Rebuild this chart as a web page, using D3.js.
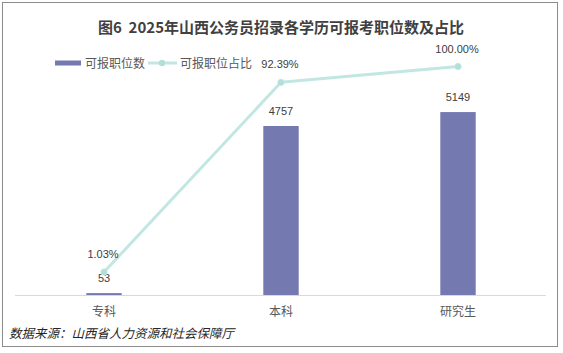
<!DOCTYPE html>
<html><head><meta charset="utf-8">
<script src="https://cdn.jsdelivr.net/npm/d3@7"></script>
<style>
html,body{margin:0;padding:0;background:#fff;}
svg{display:block;font-family:"Noto Sans CJK SC","Microsoft YaHei",sans-serif;}
</style></head>
<body>
<svg id="chart" width="563" height="353"></svg>
<script>
const categories = ["专科", "本科", "研究生"];
const positions = [53, 4757, 5149];
const shares = [0.0103, 0.9239, 1.0];
const positionLabels = ["53", "4757", "5149"];
const shareLabels = ["1.03%", "92.39%", "100.00%"];
const legendLabels = ["可报职位数", "可报职位占比"];
const titleText = "图6\u00A0\u00A02025年山西公务员招录各学历可报考职位数及占比";
const sourceText = "数据来源：山西省人力资源和社会保障厅";

const svg = d3.select("#chart");
const barColor = "#7479B0", lineColor = "#C2E7E3", markerColor = "#B3DEDA";

svg.append("rect").attr("x", 2.5).attr("y", 2.5).attr("width", 555).attr("height", 344)
  .attr("fill", "#fff").attr("stroke", "#8C8C8C").attr("stroke-width", 1);

const plotTop = 25, plotBottom = 295;
const x = d3.scaleBand().domain(categories).range([15.5, 546.5]).paddingInner(0.8).paddingOuter(0.4);
const yL = d3.scaleLinear().domain([0, 7600]).range([plotBottom, plotTop]);
const yR = d3.scaleLinear().domain([-0.1, 1.2]).range([plotBottom, plotTop]);

// baseline axis
const xAxis = d3.axisBottom(x).tickSize(0).tickPadding(12);
const gx = svg.append("g").attr("transform", `translate(0,${plotBottom})`).call(xAxis);
gx.select(".domain").attr("stroke", "#D9D9D9").attr("d", "M15,0.5H546");
gx.selectAll("text").attr("font-size", 12).attr("fill", "#595959")
  .attr("font-family", "'Noto Sans CJK SC',sans-serif");

// bars
svg.append("g").selectAll("rect").data(categories).join("rect")
  .attr("x", d => x(d)).attr("width", x.bandwidth())
  .attr("y", (d, i) => yL(positions[i]))
  .attr("height", (d, i) => plotBottom - yL(positions[i]))
  .attr("fill", barColor);

// bar labels
svg.append("g").selectAll("text").data(categories).join("text")
  .attr("x", d => x(d) + x.bandwidth() / 2)
  .attr("y", (d, i) => yL(positions[i]) - 11)
  .attr("text-anchor", "middle").attr("font-size", 11).attr("fill", "#404040")
  .attr("font-family", "'Liberation Sans',Arial,sans-serif")
  .text((d, i) => positionLabels[i]);

// line
const cx = d => x(d) + x.bandwidth() / 2;
const line = d3.line().x((d, i) => cx(categories[i])).y(d => yR(d));
svg.append("path").datum(shares).attr("d", line)
  .attr("fill", "none").attr("stroke", lineColor).attr("stroke-width", 3).attr("stroke-linejoin", "round");
svg.append("g").selectAll("circle").data(shares).join("circle")
  .attr("cx", (d, i) => cx(categories[i])).attr("cy", d => yR(d)).attr("r", 3.2)
  .attr("fill", markerColor).attr("stroke", lineColor).attr("stroke-width", 0.8);
svg.append("g").selectAll("text").data(shares).join("text")
  .attr("x", (d, i) => cx(categories[i]) - 1)
  .attr("y", d => yR(d) - 14)
  .attr("text-anchor", "middle").attr("font-size", 11).attr("fill", "#404040")
  .attr("font-family", "'Liberation Sans',Arial,sans-serif")
  .text((d, i) => shareLabels[i]);

// title
svg.append("text").attr("x", 281).attr("y", 32.5).attr("text-anchor", "middle")
  .attr("font-size", 15).attr("font-weight", "bold").attr("fill", "#404040")
  .attr("font-family", "'Noto Sans CJK SC',sans-serif")
  .text(titleText);

// legend
const lg = svg.append("g");
lg.append("rect").attr("x", 55).attr("y", 60.5).attr("width", 26).attr("height", 5).attr("fill", barColor);
lg.append("text").attr("x", 85).attr("y", 67.5).attr("font-size", 12).attr("fill", "#595959").text(legendLabels[0]);
lg.append("line").attr("x1", 148).attr("x2", 177).attr("y1", 63).attr("y2", 63)
  .attr("stroke", lineColor).attr("stroke-width", 3);
lg.append("circle").attr("cx", 162).attr("cy", 63).attr("r", 3.2).attr("fill", markerColor);
lg.append("text").attr("x", 180).attr("y", 67.5).attr("font-size", 12).attr("fill", "#595959").text(legendLabels[1]);

// source
svg.append("text").attr("x", 9).attr("y", 337.5).attr("font-size", 12.5).attr("font-style", "italic")
  .attr("fill", "#262626").text(sourceText);
</script>
</body></html>
